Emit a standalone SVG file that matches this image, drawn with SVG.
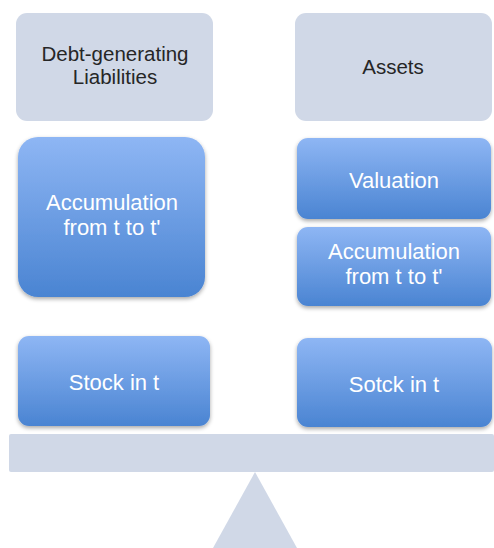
<svg xmlns="http://www.w3.org/2000/svg" width="494" height="548" viewBox="0 0 494 548">
<defs>
<linearGradient id="blue" x1="0" y1="0" x2="0" y2="1">
<stop offset="0" stop-color="#8eb6f4"/>
<stop offset="1" stop-color="#4a84d2"/>
</linearGradient>
<filter id="sh" x="-10%" y="-10%" width="120%" height="130%">
<feGaussianBlur in="SourceAlpha" stdDeviation="2"/>
<feOffset dy="2" result="b"/>
<feComponentTransfer><feFuncA type="linear" slope="0.35"/></feComponentTransfer>
<feMerge><feMergeNode/><feMergeNode in="SourceGraphic"/></feMerge>
</filter>
</defs>
<style>
.gray{fill:#d0d8e7}
.blue{fill:url(#blue);filter:url(#sh)}
.dk{font-family:"Liberation Sans",Arial,sans-serif;font-size:20.5px;fill:#262626;text-anchor:middle}
.wt{font-family:"Liberation Sans",Arial,sans-serif;font-size:22px;fill:#ffffff;text-anchor:middle}
</style>
<rect width="494" height="548" fill="#ffffff"/>
<g id="beam"><rect class="gray" x="9" y="434" width="485" height="38" rx="2"/></g>
<g id="fulcrum"><polygon class="gray" points="255,472 213,548 297,548"/></g>
<g id="liabilities">
<rect class="gray" x="16" y="13" width="197" height="108" rx="11"/>
<text class="dk" x="115" y="61">Debt-generating</text>
<text class="dk" x="115" y="84">Liabilities</text>
</g>
<g id="assets">
<rect class="gray" x="295" y="13" width="197" height="108" rx="11"/>
<text class="dk" x="393" y="74">Assets</text>
</g>
<g id="accum-left">
<rect class="blue" x="18" y="137" width="187" height="160" rx="20"/>
<text class="wt" x="112" y="210">Accumulation</text>
<text class="wt" x="112" y="235">from t to t'</text>
</g>
<g id="valuation">
<rect class="blue" x="297" y="138" width="194" height="81" rx="11"/>
<text class="wt" x="394" y="188">Valuation</text>
</g>
<g id="accum-right">
<rect class="blue" x="297" y="227" width="194" height="79" rx="11"/>
<text class="wt" x="394" y="259">Accumulation</text>
<text class="wt" x="394" y="284">from t to t'</text>
</g>
<g id="stock-left">
<rect class="blue" x="18" y="336" width="192" height="90" rx="11"/>
<text class="wt" x="114" y="390">Stock in t</text>
</g>
<g id="stock-right">
<rect class="blue" x="297" y="338" width="195" height="89" rx="11"/>
<text class="wt" x="394" y="392">Sotck in t</text>
</g>
<g id="connectors"/>
</svg>
